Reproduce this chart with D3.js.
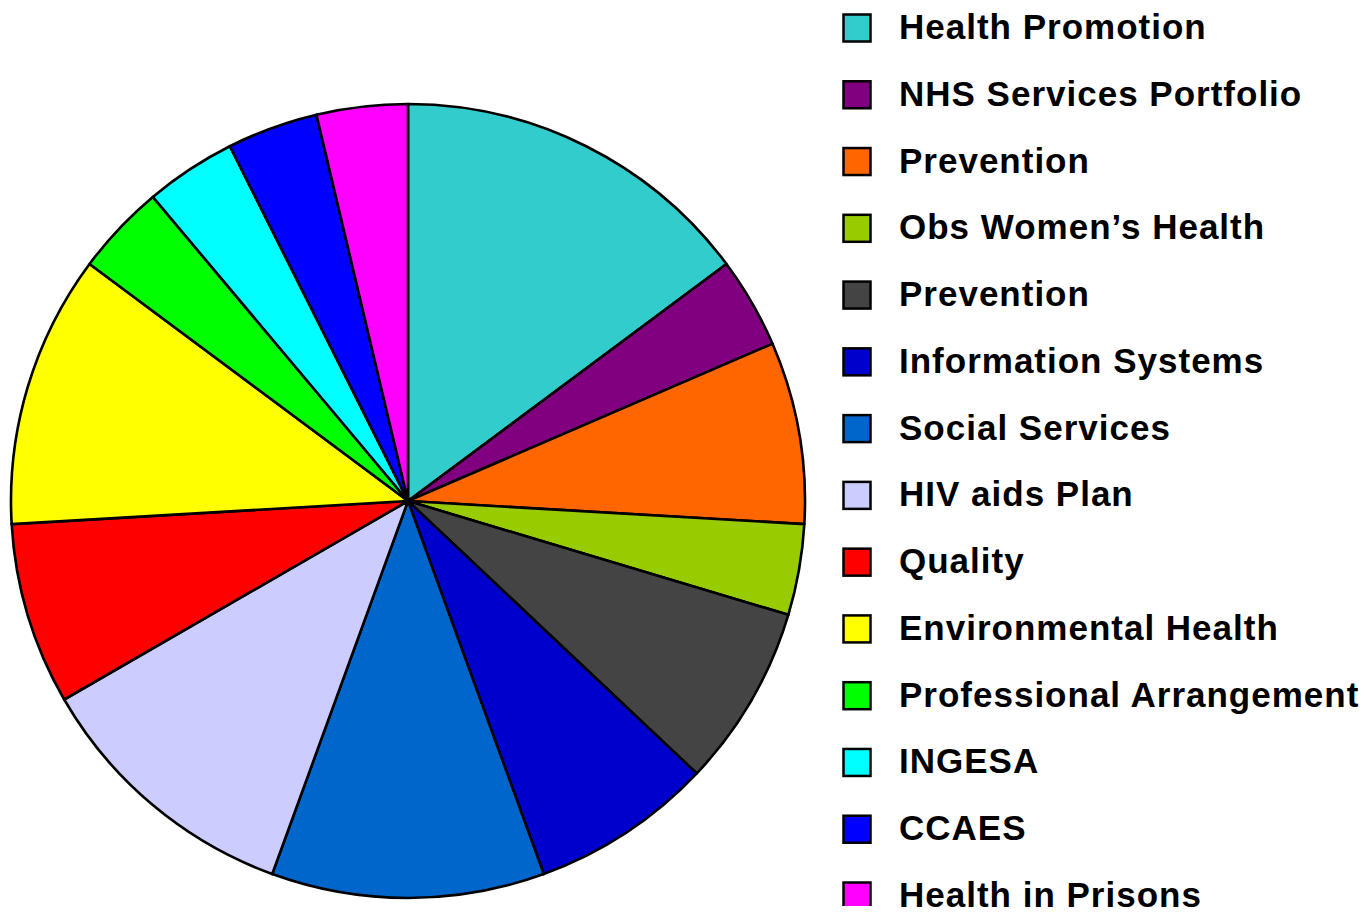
<!DOCTYPE html>
<html><head><meta charset="utf-8">
<script src="https://cdn.jsdelivr.net/npm/d3@7"></script>
<style>html,body{margin:0;padding:0;background:#fff;}</style>
</head><body>
<svg id="chart" width="1370" height="913"></svg>
<script>
const categories = ["Health Promotion","NHS Services Portfolio","Prevention","Obs Women\u2019s Health","Prevention","Information Systems","Social Services","HIV aids Plan","Quality","Environmental Health","Professional Arrangement","INGESA","CCAES","Health in Prisons"];
const values = [4,1,2,1,2,2,3,3,2,3,1,1,1,1];
const colors = ["#33CCCC","#800080","#FF6600","#99CC00","#444444","#0000CC","#0066CC","#CCCCFF","#FF0000","#FFFF00","#00FF00","#00FFFF","#0000FF","#FF00FF"];

const svg = d3.select("#chart");
const data = categories.map((c,i)=>({name:c, value:values[i], color:colors[i], i}));
const pie = d3.pie().value(d=>d.value).sort(null);
const arc = d3.arc().innerRadius(0).outerRadius(397);
const g = svg.append("g").attr("transform","translate(408,501)");
g.selectAll("path").data(pie(data)).join("path")
  .attr("d",arc).attr("fill",d=>d.data.color)
  .attr("stroke","#000").attr("stroke-width",2.6).attr("stroke-linejoin","round");

svg.append("clipPath").attr("id","lc").append("rect").attr("x",800).attr("y",0).attr("width",570).attr("height",906);
const y = d3.scalePoint().domain(d3.range(categories.length)).range([28,896]);
const lg = svg.append("g");
const items = lg.selectAll("g").data(data).join("g").attr("transform",d=>`translate(0,${y(d.i)})`);
lg.selectAll("rect").data(data).join("rect").attr("clip-path","url(#lc)")
  .attr("x",843.5).attr("y",d=>y(d.i)-13.5).attr("width",27).attr("height",27)
  .attr("fill",d=>d.color).attr("stroke","#000").attr("stroke-width",2.5);
items.append("text").attr("x",899).attr("y",11)
  .attr("font-family","'Liberation Sans', Arial, sans-serif").attr("font-weight","bold")
  .attr("font-size",35).attr("letter-spacing",1).attr("fill","#000")
  .text(d=>d.name);
</script>
</body></html>
